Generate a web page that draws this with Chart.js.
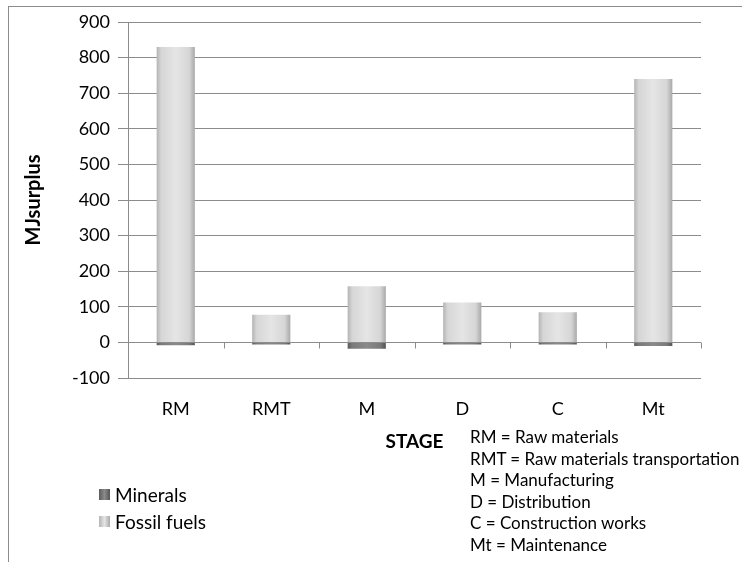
<!DOCTYPE html>
<html>
<head>
<meta charset="utf-8">
<script src="https://cdn.jsdelivr.net/npm/chart.js@4/dist/chart.umd.min.js"></script>
<style>
  html, body { margin: 0; padding: 0; background: #fff; }
  #wrap { position: relative; width: 742px; height: 562px; overflow: hidden; font-family: Lato, "Open Sans", sans-serif; }
  #frame { position: absolute; left: 8px; top: 6px; width: 800px; height: 700px; border-left: 1px solid #8c8c8c; border-top: 1px solid #8c8c8c; }
  canvas { position: absolute; left: 0; top: 0; }
  .legend { position: absolute; left: 99px; font-size: 19px; color: #000; line-height: 27px; }
  .legend .row { display: flex; align-items: center; }
  .legend .sw { width: 11px; height: 11px; margin-right: 5px; }
  .notes { position: absolute; left: 470px; top: 426px; font-size: 17px; line-height: 21.6px; color: #000; white-space: nowrap; }
</style>
</head>
<body>
<div id="wrap">
  <div id="frame"></div>
  <canvas id="c" width="742" height="562"></canvas>
  <div class="legend" id="legend" style="top:481px"></div>
  <div class="notes" id="notes"></div>
</div>
<script>
const categories = ['RM', 'RMT', 'M', 'D', 'C', 'Mt'];
const minerals = [-8, -6, -18, -6, -6, -10];
const fossilFuels = [830, 78, 158, 112, 85, 740];
const seriesNames = ['Minerals', 'Fossil fuels'];
const yTicks = { min: -100, max: 900, step: 100 };
const notes = [
  'RM = Raw materials',
  'RMT = Raw materials transportation',
  'M = Manufacturing',
  'D = Distribution',
  'C = Construction works',
  'Mt = Maintenance'
];

const palettes = {
  dark: ['#5c5c5c', '#7a7a7a', '#8a8a8a', '#7a7a7a', '#555555'],
  light: ['#b4b4b4', '#d6d6d6', '#e5e5e5', '#d6d6d6', '#a9a9a9']
};

function barGradient(context, pal) {
  const chart = context.chart;
  const xs = chart.scales.x;
  if (!xs || !chart.chartArea) return pal[2];
  const cx = xs.getPixelForValue(context.dataIndex);
  const w = (xs.getPixelForValue(1) - xs.getPixelForValue(0)) * 0.4;
  const g = chart.ctx.createLinearGradient(cx - w / 2, 0, cx + w / 2, 0);
  g.addColorStop(0, pal[0]);
  g.addColorStop(0.12, pal[1]);
  g.addColorStop(0.5, pal[2]);
  g.addColorStop(0.85, pal[3]);
  g.addColorStop(1, pal[4]);
  return g;
}

const tickMarks = {
  id: 'tickMarks',
  afterDatasetsDraw(chart) {
    const xs = chart.scales.x, ys = chart.scales.y;
    const ctx = chart.ctx;
    const y0 = Math.round(ys.getPixelForValue(0)) + 0.5;
    ctx.save();
    ctx.strokeStyle = '#8c8c8c';
    ctx.lineWidth = 1;
    ctx.beginPath();
    ctx.moveTo(chart.chartArea.left, y0);
    ctx.lineTo(chart.chartArea.right, y0);
    for (let k = 0; k < categories.length; k++) {
      const x = Math.round(xs.getPixelForValue(k + 0.5)) + 0.5;
      ctx.moveTo(x, y0);
      ctx.lineTo(x, y0 + 6);
    }
    ctx.stroke();
    ctx.restore();
  }
};

new Chart(document.getElementById('c'), {
  type: 'bar',
  data: {
    labels: categories,
    datasets: [
      { label: seriesNames[0], data: minerals, backgroundColor: c => barGradient(c, palettes.dark), borderWidth: 0 },
      { label: seriesNames[1], data: fossilFuels, backgroundColor: c => barGradient(c, palettes.light), borderWidth: 0 }
    ]
  },
  options: {
    responsive: false,
    animation: false,
    devicePixelRatio: 1,
    layout: { padding: { left: 0, right: 41, top: 22, bottom: 107 } },
    datasets: { bar: { barPercentage: 0.4, categoryPercentage: 1 } },
    plugins: { legend: { display: false }, tooltip: { enabled: false } },
    scales: {
      x: {
        stacked: true,
        grid: { display: false, drawTicks: false },
        border: { display: false },
        ticks: { color: '#000', font: { family: 'Lato', size: 18 }, padding: 20 },
        title: { display: true, text: 'STAGE', color: '#000', font: { family: 'Lato', size: 19, weight: 'bold' }, padding: { top: 4, bottom: 2 } },
        afterFit(s) { s.height = 77; }
      },
      y: {
        stacked: true,
        min: yTicks.min, max: yTicks.max,
        ticks: { stepSize: yTicks.step, color: '#000', font: { family: 'Lato', size: 18 }, padding: 8 },
        grid: { color: '#8c8c8c', lineWidth: 1, tickLength: 10, drawTicks: true },
        border: { display: true, color: '#8c8c8c', width: 1 },
        title: { display: true, text: 'MJsurplus', color: '#000', font: { family: 'Lato', size: 20, weight: 'bold' }, padding: { top: 22, bottom: 0 } },
        afterFit(s) { s.width = 128; }
      }
    }
  },
  plugins: [tickMarks]
});

const lg = document.getElementById('legend');
[['dark', seriesNames[0]], ['light', seriesNames[1]]].forEach(([p, name]) => {
  const r = document.createElement('div');
  r.className = 'row';
  const sw = document.createElement('span');
  sw.className = 'sw';
  const pal = palettes[p];
  sw.style.background = `linear-gradient(to right, ${pal[0]}, ${pal[2]} 50%, ${pal[4]})`;
  r.appendChild(sw);
  const t = document.createElement('span');
  t.textContent = name;
  r.appendChild(t);
  lg.appendChild(r);
});
const nt = document.getElementById('notes');
notes.forEach(n => { const d = document.createElement('div'); d.textContent = n; nt.appendChild(d); });
</script>
</body>
</html>
